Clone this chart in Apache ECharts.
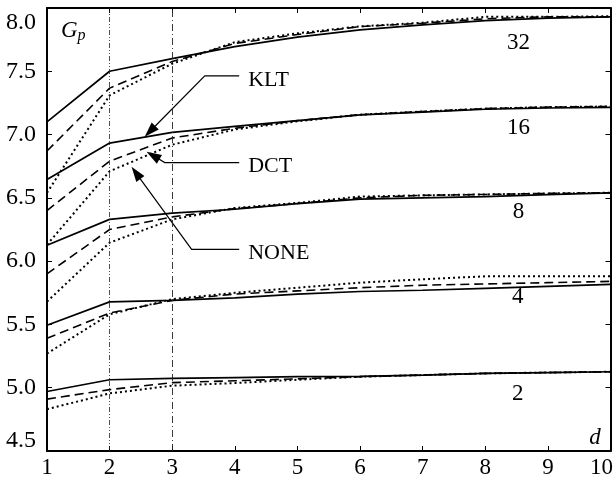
<!DOCTYPE html>
<html>
<head>
<meta charset="utf-8">
<script src="https://cdn.jsdelivr.net/npm/echarts@6/dist/echarts.min.js"></script>
<style>
html, body { margin: 0; padding: 0; background: #fff; }
#chart { width: 616px; height: 479px; }
</style>
</head>
<body>
<div id="chart"></div>
<script>
// d values on the x axis
const d = [1, 2, 3, 4, 5, 6, 7, 8, 9, 10];
const groups = ['32', '16', '8', '4', '2'];
const methods = ['KLT', 'DCT', 'NONE'];

// G_p per group
const klt32 = [7.10, 7.50, 7.60, 7.695, 7.77, 7.827, 7.866, 7.90, 7.92, 7.93];
const dct32 = [6.87, 7.367, 7.577, 7.72, 7.79, 7.853, 7.88, 7.915, 7.93, 7.93];
const none32 = [6.54, 7.31, 7.56, 7.73, 7.80, 7.855, 7.884, 7.93, 7.93, 7.935];
const klt16 = [6.645, 6.933, 7.017, 7.065, 7.11, 7.155, 7.178, 7.20, 7.21, 7.215];
const dct16 = [6.40, 6.79, 6.973, 7.05, 7.11, 7.157, 7.182, 7.205, 7.217, 7.222];
const none16 = [6.13, 6.71, 6.92, 7.04, 7.105, 7.157, 7.182, 7.205, 7.217, 7.222];
const klt8 = [6.125, 6.33, 6.38, 6.41, 6.455, 6.49, 6.50, 6.51, 6.525, 6.54];
const dct8 = [5.90, 6.25, 6.35, 6.415, 6.455, 6.50, 6.52, 6.527, 6.535, 6.54];
const none8 = [5.68, 6.146, 6.33, 6.42, 6.46, 6.51, 6.52, 6.527, 6.535, 6.54];
const klt4 = [5.494, 5.678, 5.69, 5.71, 5.74, 5.76, 5.77, 5.785, 5.80, 5.817];
const dct4 = [5.39, 5.59, 5.69, 5.74, 5.765, 5.79, 5.81, 5.82, 5.83, 5.84];
const none4 = [5.27, 5.58, 5.70, 5.75, 5.79, 5.83, 5.857, 5.88, 5.88, 5.88];
const klt2 = [4.97, 5.063, 5.074, 5.08, 5.087, 5.09, 5.10, 5.113, 5.12, 5.126];
const dct2 = [4.91, 4.985, 5.04, 5.055, 5.07, 5.087, 5.10, 5.113, 5.12, 5.126];
const none2 = [4.83, 4.955, 5.016, 5.037, 5.063, 5.087, 5.10, 5.113, 5.12, 5.126];

const values = {
    '32': [klt32, dct32, none32],
    '16': [klt16, dct16, none16],
    '8': [klt8, dct8, none8],
    '4': [klt4, dct4, none4],
    '2': [klt2, dct2, none2]
};

const font = '"Liberation Serif", serif';
const lineStyles = [
    { type: 'solid', width: 1.7 },
    { type: [9, 5], width: 1.6 },
    { type: [2, 3], width: 2 }
];

const chart = echarts.init(document.getElementById('chart'));

const series = [];
groups.forEach(g => {
    methods.forEach((m, i) => {
        series.push({
            name: m + ' ' + g,
            type: 'line',
            data: d.map((x, k) => [x, values[g][i][k]]),
            showSymbol: false,
            silent: true,
            lineStyle: { color: '#000', ...lineStyles[i] }
        });
    });
});
// vertical guides at d = 2 and d = 3
series.push({
    type: 'line',
    data: [],
    silent: true,
    markLine: {
        symbol: 'none',
        silent: true,
        label: { show: false },
        data: [
            { xAxis: 2, lineStyle: { color: '#222', width: 0.8, type: [5, 2, 1, 2, 1, 2] } },
            { xAxis: 3, lineStyle: { color: '#222', width: 0.9, type: [7, 3, 1, 3] } }
        ]
    }
});

const tickStyle = { show: true, inside: true, length: 5, lineStyle: { color: '#000', width: 1 } };
const axisLine = { show: true, lineStyle: { color: '#000', width: 2 } };

const option = {
    animation: false,
    grid: { left: 47, right: 4, top: 8, bottom: 27 },
    xAxis: [{
        type: 'value', min: 1, max: 10, interval: 1,
        axisLine, axisTick: tickStyle, splitLine: { show: false },
        axisLabel: {
            margin: 5, color: '#000', fontFamily: font, fontSize: 23,
            formatter: v => v === 10 ? '{end|10}' : String(v),
            rich: { end: { padding: [0, 18, 0, 0], fontFamily: font, fontSize: 23, color: '#000' } }
        }
    }, {
        type: 'value', min: 1, max: 10, interval: 1, position: 'top',
        axisLine, axisTick: tickStyle, axisLabel: { show: false }, splitLine: { show: false }
    }],
    yAxis: [{
        type: 'value', min: 4.5, max: 8.0, interval: 0.5,
        axisLine, axisTick: tickStyle, splitLine: { show: false },
        axisLabel: {
            margin: 11, color: '#000', fontFamily: font, fontSize: 24,
            formatter: v => v === 8 ? '{top|8.0}' : v === 4.5 ? '{bot|4.5}' : v.toFixed(1),
            rich: {
                top: { padding: [30, 0, 0, 0], fontFamily: font, fontSize: 24, color: '#000' },
                bot: { padding: [0, 0, 20, 0], fontFamily: font, fontSize: 24, color: '#000' }
            }
        }
    }, {
        type: 'value', min: 4.5, max: 8.0, interval: 0.5, position: 'right',
        axisLine, axisTick: tickStyle, axisLabel: { show: false }, splitLine: { show: false }
    }],
    series
};
chart.setOption(option);

// annotations, placed in data coordinates
const px = p => chart.convertToPixel({ gridIndex: 0 }, p);
const arrows = [
    { text: 'KLT', path: [[4.07, 7.464], [3.52, 7.464], [2.56, 6.983]] },
    { text: 'DCT', path: [[4.07, 6.779], [2.88, 6.779], [2.59, 6.865]] },
    { text: 'NONE', path: [[4.07, 6.093], [3.31, 6.093], [2.35, 6.745]] }
];
const graphic = [];
arrows.forEach(a => {
    const pts = a.path.map(px);
    const tip = pts[pts.length - 1];
    const prev = pts[pts.length - 2];
    const dx = tip[0] - prev[0], dy = tip[1] - prev[1];
    const len = Math.hypot(dx, dy);
    const ux = dx / len, uy = dy / len;
    const hl = 15, hw = 5;
    const bx = tip[0] - ux * hl, by = tip[1] - uy * hl;
    const lineEnd = [tip[0] - ux * (hl - 2), tip[1] - uy * (hl - 2)];
    graphic.push({
        type: 'polyline', silent: true,
        shape: { points: pts.slice(0, -1).concat([lineEnd]) },
        style: { stroke: '#000', lineWidth: 1.2, fill: null }
    });
    graphic.push({
        type: 'polygon', silent: true,
        shape: { points: [tip, [bx - uy * hw, by + ux * hw], [bx + uy * hw, by - ux * hw]] },
        style: { fill: '#000' }
    });
    graphic.push({
        type: 'text', silent: true, x: pts[0][0] + 9, y: pts[0][1] + 4,
        style: { text: a.text, font: '22px ' + font, fill: '#000', textVerticalAlign: 'middle' }
    });
});
const groupLabels = [[8.53, 7.72], [8.53, 7.05], [8.53, 6.385], [8.52, 5.715], [8.52, 4.95]];
groups.forEach((g, i) => {
    const p = px(groupLabels[i]);
    graphic.push({
        type: 'text', silent: true, x: p[0], y: p[1],
        style: { text: g, font: '23px ' + font, fill: '#000', textAlign: 'center', textVerticalAlign: 'middle' }
    });
});
graphic.push({
    type: 'text', silent: true, x: 61, y: 31,
    style: {
        text: '{g|G}{p|p}', fill: '#000', textVerticalAlign: 'middle',
        rich: {
            g: { font: 'italic 23px ' + font, fill: '#000' },
            p: { font: 'italic 16px ' + font, fill: '#000', padding: [10, 0, 0, 0] }
        }
    }
});
graphic.push({
    type: 'text', silent: true, x: 595, y: 438,
    style: { text: 'd', font: 'italic 23px ' + font, fill: '#000', textAlign: 'center', textVerticalAlign: 'middle' }
});
chart.setOption({ graphic });
</script>
</body>
</html>
